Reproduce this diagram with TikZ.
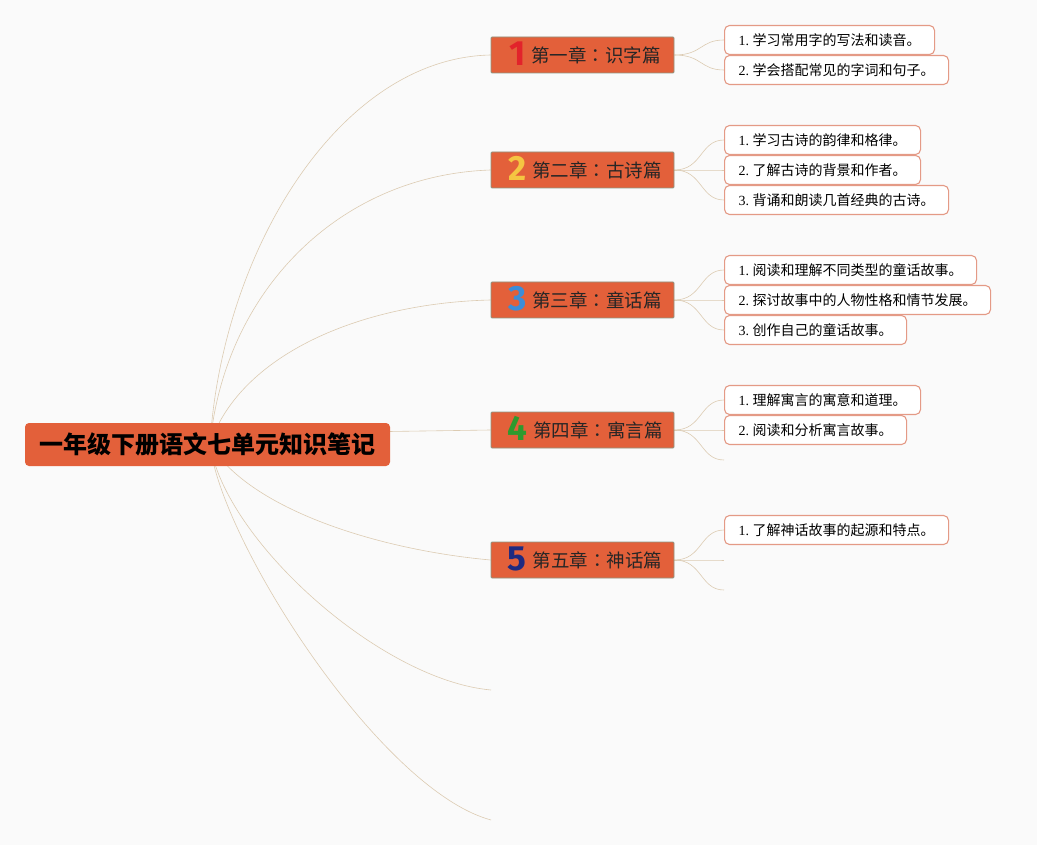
\documentclass[tikz,border=0pt]{standalone}
\usepackage{fontspec}
\setmainfont{Liberation Serif}
\newfontfamily\cjk{Noto Sans CJK SC}
\newfontfamily\cjkjp{Noto Sans CJK JP}
\newfontfamily\dig{Fira Sans}
\usetikzlibrary{backgrounds,calc}
\definecolor{bgc}{HTML}{FAFAFA}
\definecolor{mainor}{HTML}{E3603A}
\definecolor{chapborder}{HTML}{8E9682}
\definecolor{leafborder}{HTML}{E49A86}
\definecolor{linkc}{HTML}{DCCBB2}
\definecolor{dA}{HTML}{E2232B}
\definecolor{dB}{HTML}{F5C542}
\definecolor{dC}{HTML}{3C8DD8}
\definecolor{dD}{HTML}{2E9A2E}
\definecolor{dE}{HTML}{1F2A80}
\newcommand{\chapnum}[2]{\hspace{5pt}\raisebox{-3pt}[0pt][0pt]{\dig\bfseries\fontsize{35}{35}\selectfont\color{#1}#2}\hspace{6pt}}
\newcommand{\cc}{{\cjkjp ：}}
\newcommand{\lf}[2]{#1\ {\cjk #2}}
\begin{document}
\begin{tikzpicture}[x=1pt,y=-1pt,
  rootbox/.style={fill=mainor, rounded corners=4pt, minimum width=365pt, minimum height=43pt, inner sep=0pt, font=\cjk\bfseries\fontsize{24}{28}\selectfont, text=black},
  chapbox/.style={fill=mainor, draw=chapborder, line width=0.9pt, minimum width=183pt, minimum height=36pt, inner sep=0pt, rounded corners=1pt, font=\cjk\fontsize{18.5}{22}\selectfont, text=black!85},
  leafbox/.style={fill=white, draw=leafborder, line width=1.1pt, rounded corners=5pt, anchor=west, minimum height=29pt, inner xsep=14pt, inner ysep=0pt, font=\fontsize{14}{16}\selectfont, text=black},
  link/.style={draw=linkc, line width=0.6pt}
]
\useasboundingbox (0,0) rectangle (1037,845);

% root
\node[rootbox] (root) at (207.5,444.5) {一年级下册语文七单元知识笔记};

% chapters
\node[chapbox] (c1) at (582.5,55) {\chapnum{dA}{1}第一章\cc 识字篇};
\node[chapbox] (c2) at (582.5,170) {\chapnum{dB}{2}第二章\cc 古诗篇};
\node[chapbox] (c3) at (582.5,300) {\chapnum{dC}{3}第三章\cc 童话篇};
\node[chapbox] (c4) at (582.5,430) {\chapnum{dD}{4}第四章\cc 寓言篇};
\node[chapbox] (c5) at (582.5,560) {\chapnum{dE}{5}第五章\cc 神话篇};

% leaves
\node[leafbox] (l11) at (724,40) {\lf{1.}{学习常用字的写法和读音。}};
\node[leafbox] (l12) at (724,70) {\lf{2.}{学会搭配常见的字词和句子。}};
\node[leafbox] (l21) at (724,140) {\lf{1.}{学习古诗的韵律和格律。}};
\node[leafbox] (l22) at (724,170) {\lf{2.}{了解古诗的背景和作者。}};
\node[leafbox] (l23) at (724,200) {\lf{3.}{背诵和朗读几首经典的古诗。}};
\node[leafbox] (l31) at (724,270) {\lf{1.}{阅读和理解不同类型的童话故事。}};
\node[leafbox] (l32) at (724,300) {\lf{2.}{探讨故事中的人物性格和情节发展。}};
\node[leafbox] (l33) at (724,330) {\lf{3.}{创作自己的童话故事。}};
\node[leafbox] (l41) at (724,400) {\lf{1.}{理解寓言的寓意和道理。}};
\node[leafbox] (l42) at (724,430) {\lf{2.}{阅读和分析寓言故事。}};
\node[leafbox] (l51) at (724,530) {\lf{1.}{了解神话故事的起源和特点。}};

% free ends
\coordinate (r0) at (210,444);
\coordinate (e1) at (491,690);
\coordinate (e2) at (491,820);
\coordinate (e43) at (724,460);
\coordinate (e52) at (724,560);
\coordinate (e53) at (724,590);

\begin{scope}[on background layer]
\fill[bgc] (0,0) rectangle (1037,845);
% root to chapters
\draw[link] (r0) .. controls (222,250) and (340,58) .. (c1.west);
\draw[link] (r0) .. controls (225,290) and (340,175) .. (c2.west);
\draw[link] (r0) .. controls (240,355) and (360,303) .. (c3.west);
\draw[link] ($(root.north east)!0.2!(root.south east)$) -- (c4.west);
\draw[link] (r0) .. controls (250,510) and (380,550) .. (c5.west);
\draw[link] (r0) .. controls (225,540) and (380,680) .. (e1);
\draw[link] (r0) .. controls (220,540) and (380,790) .. (e2);
% chapters to leaves
\foreach \c/\l in {c1/l11,c1/l12,c2/l21,c2/l22,c2/l23,c3/l31,c3/l32,c3/l33,c4/l41,c4/l42,c5/l51}{
  \draw[link] (\c.east) .. controls ($(\c.east)+(28,0)$) and ($(\l.west)+(-24,0)$) .. (\l.west);
}
\draw[link] (c4.east) .. controls ($(c4.east)+(28,0)$) and ($(e43)+(-24,0)$) .. (e43);
\draw[link] (c5.east) .. controls ($(c5.east)+(28,0)$) and ($(e52)+(-24,0)$) .. (e52);
\draw[link] (c5.east) .. controls ($(c5.east)+(28,0)$) and ($(e53)+(-24,0)$) .. (e53);
\end{scope}
\end{tikzpicture}
\end{document}
